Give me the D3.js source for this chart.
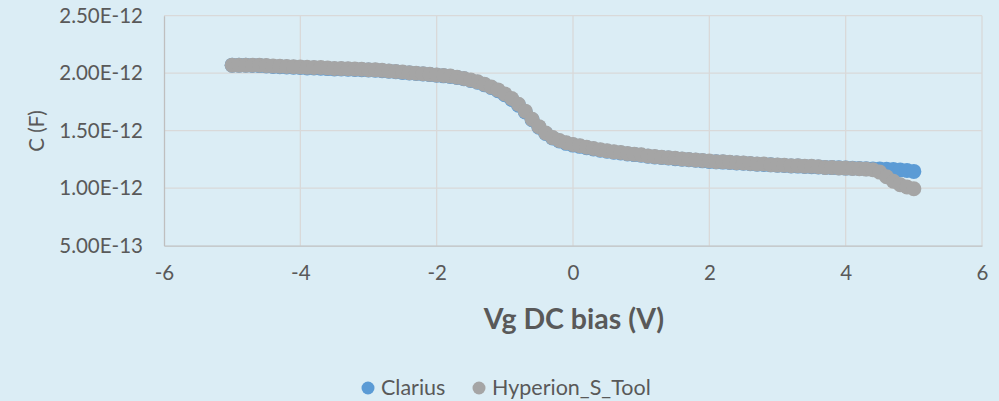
<!DOCTYPE html>
<html>
<head>
<meta charset="utf-8">
<script src="https://cdn.jsdelivr.net/npm/d3@7"></script>
<style>
  html, body { margin: 0; padding: 0; background: #DBEDF5; }
  svg { display: block; }
</style>
</head>
<body>
<svg id="chart" width="999" height="401"></svg>
<script>
// Gate DC bias sweep (V)
const vgBias = [
  -5.0, -4.9, -4.8, -4.7, -4.6, -4.5, -4.4, -4.3, -4.2, -4.1,
  -4.0, -3.9, -3.8, -3.7, -3.6, -3.5, -3.4, -3.3, -3.2, -3.1,
  -3.0, -2.9, -2.8, -2.7, -2.6, -2.5, -2.4, -2.3, -2.2, -2.1,
  -2.0, -1.9, -1.8, -1.7, -1.6, -1.5, -1.4, -1.3, -1.2, -1.1,
  -1.0, -0.9, -0.8, -0.7, -0.6, -0.5, -0.4, -0.3, -0.2, -0.1,
   0.0,  0.1,  0.2,  0.3,  0.4,  0.5,  0.6,  0.7,  0.8,  0.9,
   1.0,  1.1,  1.2,  1.3,  1.4,  1.5,  1.6,  1.7,  1.8,  1.9,
   2.0,  2.1,  2.2,  2.3,  2.4,  2.5,  2.6,  2.7,  2.8,  2.9,
   3.0,  3.1,  3.2,  3.3,  3.4,  3.5,  3.6,  3.7,  3.8,  3.9,
   4.0,  4.1,  4.2,  4.3,  4.4,  4.5,  4.6,  4.7,  4.8,  4.9,
   5.0
];

// Capacitance in pF (scaled to F when plotted)
const clariusPF = [
  2.070, 2.070, 2.070, 2.068, 2.066, 2.062, 2.058, 2.056, 2.055, 2.052,
  2.050, 2.046, 2.045, 2.044, 2.040, 2.036, 2.036, 2.035, 2.032, 2.030,
  2.028, 2.026, 2.022, 2.018, 2.012, 2.007, 2.002, 1.998, 1.993, 1.988,
  1.983, 1.977, 1.971, 1.962, 1.952, 1.937, 1.921, 1.900, 1.876, 1.848,
  1.812, 1.772, 1.722, 1.662, 1.595, 1.530, 1.476, 1.436, 1.410, 1.390,
  1.375, 1.364, 1.352, 1.341, 1.331, 1.321, 1.312, 1.306, 1.297, 1.292,
  1.286, 1.278, 1.272, 1.267, 1.262, 1.257, 1.252, 1.247, 1.243, 1.238,
  1.233, 1.229, 1.227, 1.223, 1.219, 1.217, 1.213, 1.209, 1.207, 1.203,
  1.199, 1.197, 1.194, 1.192, 1.189, 1.187, 1.184, 1.181, 1.179, 1.177,
  1.175, 1.173, 1.172, 1.170, 1.168, 1.166, 1.165, 1.162, 1.158, 1.154,
  1.146
];

const hyperionPF = [
  2.070, 2.070, 2.070, 2.070, 2.069, 2.066, 2.062, 2.060, 2.059, 2.056,
  2.055, 2.051, 2.050, 2.049, 2.045, 2.041, 2.040, 2.039, 2.036, 2.034,
  2.031, 2.029, 2.025, 2.020, 2.015, 2.010, 2.005, 2.000, 1.995, 1.990,
  1.985, 1.980, 1.975, 1.965, 1.955, 1.940, 1.925, 1.905, 1.880, 1.855,
  1.820, 1.780, 1.730, 1.670, 1.600, 1.535, 1.480, 1.440, 1.415, 1.395,
  1.380, 1.370, 1.356, 1.345, 1.335, 1.325, 1.316, 1.310, 1.301, 1.296,
  1.290, 1.281, 1.275, 1.270, 1.265, 1.260, 1.255, 1.250, 1.246, 1.241,
  1.236, 1.231, 1.230, 1.226, 1.221, 1.220, 1.215, 1.211, 1.210, 1.205,
  1.201, 1.200, 1.196, 1.195, 1.191, 1.190, 1.186, 1.181, 1.180, 1.176,
  1.175, 1.171, 1.170, 1.166, 1.160, 1.140, 1.100, 1.060, 1.030, 1.010,
  0.995
];

const xTicks = [-6, -4, -2, 0, 2, 4, 6];
const yTicks = [0.5e-12, 1.0e-12, 1.5e-12, 2.0e-12, 2.5e-12];

const seriesNames = ["Clarius", "Hyperion_S_Tool"];
const seriesColors = ["#5B9BD5", "#A5A5A5"];

const svg = d3.select("#chart");
const W = 999, H = 401;
const plot = { left: 164, right: 982, top: 15.7, bottom: 245.7 };

svg.append("rect").attr("width", W).attr("height", H).attr("fill", "#DBEDF5");

const x = d3.scaleLinear().domain([-6, 6]).range([plot.left, plot.right]);
const y = d3.scaleLinear().domain([0.5e-12, 2.5e-12]).range([plot.bottom, plot.top]);

const fmtSci = v => v.toExponential(2).toUpperCase();
const textColor = "#595959";
const font = "Lato, 'Open Sans', sans-serif";

// Gridlines
const grid = svg.append("g");
grid.selectAll("line.h").data(yTicks.slice(1)).join("line")
  .attr("x1", plot.left).attr("x2", plot.right)
  .attr("y1", d => y(d)).attr("y2", d => y(d))
  .attr("stroke", "#D9D9D9").attr("stroke-width", 1.3);
grid.selectAll("line.v").data(xTicks.slice(1)).join("line")
  .attr("x1", d => x(d)).attr("x2", d => x(d))
  .attr("y1", plot.top).attr("y2", plot.bottom)
  .attr("stroke", "#D9D9D9").attr("stroke-width", 1.3);

// Axes
const xAxis = d3.axisBottom(x).tickValues(xTicks).tickSize(0).tickPadding(20).tickFormat(d3.format("d"));
const yAxis = d3.axisLeft(y).tickValues(yTicks).tickSize(0).tickPadding(21).tickFormat(fmtSci);

const gx = svg.append("g").attr("transform", `translate(0,${plot.bottom})`).call(xAxis);
const gy = svg.append("g").attr("transform", `translate(${plot.left},0)`).call(yAxis);
[gx, gy].forEach(g => {
  g.select(".domain").attr("stroke", "#BFBFBF").attr("stroke-width", 1.3);
  g.selectAll("text").attr("fill", textColor).style("font-family", font).style("font-size", "20.5px");
});
gx.selectAll("text").attr("dy", "0.71em");
gx.selectAll("text").text(d => d < 0 ? "-" + Math.abs(d) : d);

// Axis titles
svg.append("text")
  .attr("x", 574).attr("y", 329)
  .attr("text-anchor", "middle")
  .attr("fill", textColor)
  .style("font-family", font).style("font-size", "28.5px").style("font-weight", "bold")
  .text("Vg DC bias (V)");

svg.append("text")
  .attr("transform", "translate(44,131) rotate(-90)")
  .attr("text-anchor", "middle")
  .attr("fill", textColor)
  .style("font-family", font).style("font-size", "20.5px")
  .text("C (F)");

// Data markers
const series = [clariusPF, hyperionPF];
series.forEach((vals, i) => {
  svg.append("g").selectAll("circle")
    .data(vgBias.map((v, k) => ({ v, c: vals[k] * 1e-12 })))
    .join("circle")
    .attr("cx", d => x(d.v))
    .attr("cy", d => y(d.c))
    .attr("r", 7.5)
    .attr("fill", seriesColors[i]);
});

// Legend
const legend = svg.append("g");
const legendX = [368, 479];
seriesNames.forEach((name, i) => {
  legend.append("circle").attr("cx", legendX[i]).attr("cy", 388).attr("r", 6.5).attr("fill", seriesColors[i]);
  legend.append("text")
    .attr("x", legendX[i] + 13).attr("y", 395)
    .attr("fill", textColor)
    .style("font-family", font).style("font-size", "21.5px")
    .text(name);
});
</script>
</body>
</html>
